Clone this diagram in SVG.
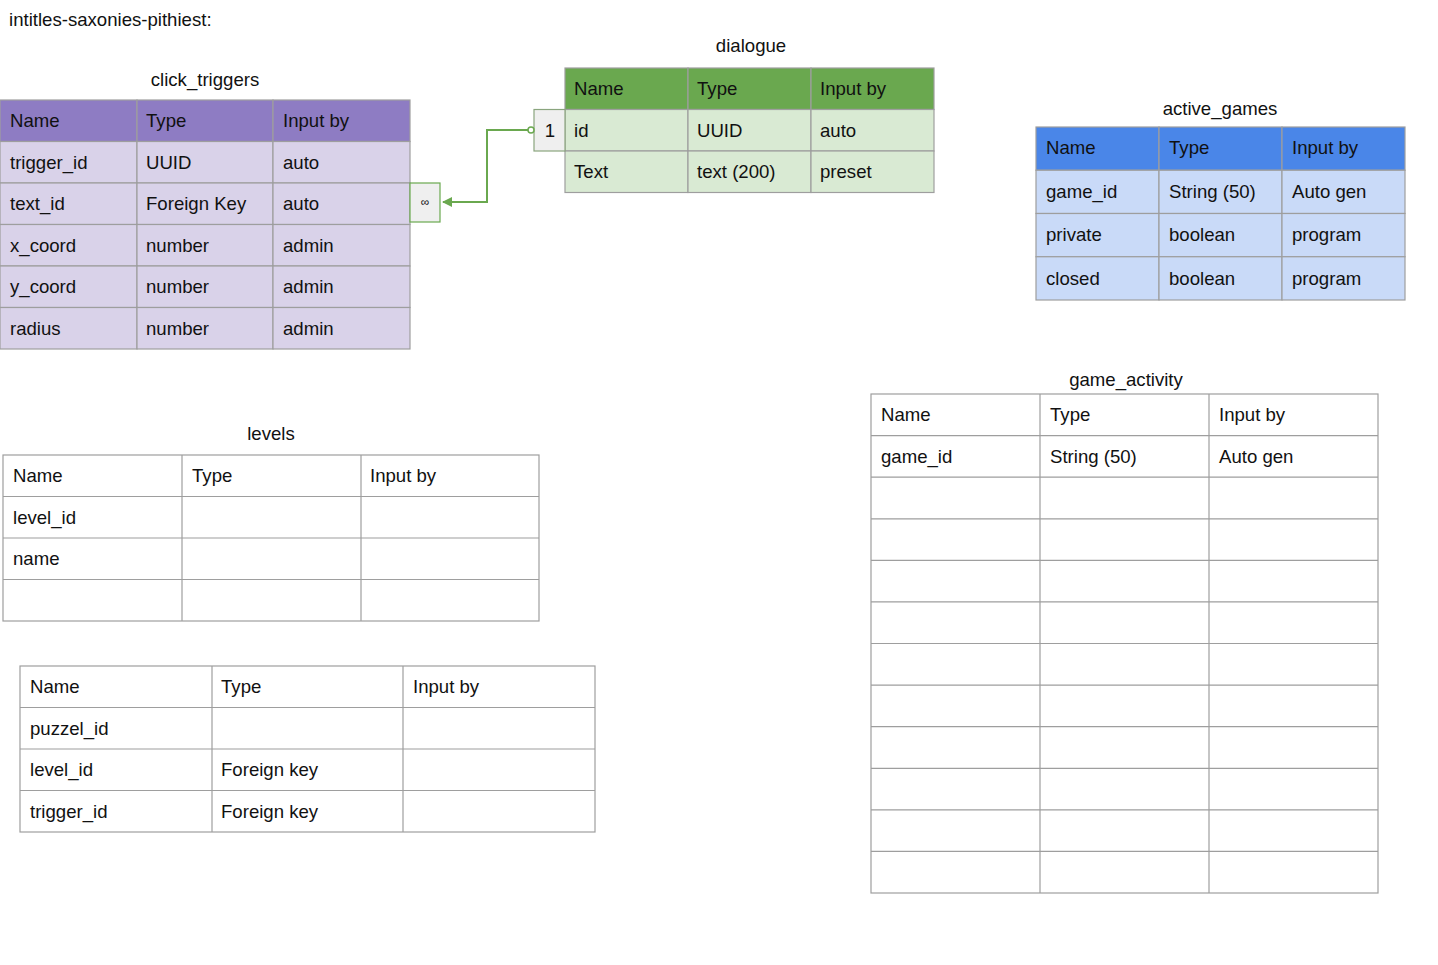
<svg xmlns="http://www.w3.org/2000/svg" width="1438" height="965" viewBox="0 0 1438 965">
<style>
text{font-family:"Liberation Sans",Arial,sans-serif;font-size:18.6px;fill:#111}
.t{text-anchor:middle}
.g{stroke:#9e9e9e;stroke-width:1.2}
.ph{fill:#8e7cc3}.pl{fill:#d9d2e9}
.gh{fill:#6aa84f}.gl{fill:#d9ead3}
.bh{fill:#4a86e8}.bl{fill:#c9daf8}
.w{fill:#fff}
.tag{fill:#efefef;stroke:#6aa84f;stroke-width:1.2}
.con{fill:none;stroke:#6aa84f;stroke-width:2}
</style>
<defs>
<marker id="arr" viewBox="0 0 10 10" refX="9" refY="5" markerWidth="6" markerHeight="5" orient="auto-start-reverse" markerUnits="strokeWidth">
<path d="M0,0 L10,5 L0,10 z" fill="#6aa84f"/>
</marker>
</defs>
<rect width="1438" height="965" fill="#fff"/>
<text x="9" y="26">intitles-saxonies-pithiest:</text>

<g id="click_triggers">
<text class="t" x="205" y="86">click_triggers</text>
<g class="g">
<rect class="ph" x="0" y="100" width="137" height="41.5"/><rect class="ph" x="137" y="100" width="136" height="41.5"/><rect class="ph" x="273" y="100" width="137" height="41.5"/>
<rect class="pl" x="0" y="141.5" width="137" height="41.5"/><rect class="pl" x="137" y="141.5" width="136" height="41.5"/><rect class="pl" x="273" y="141.5" width="137" height="41.5"/>
<rect class="pl" x="0" y="183" width="137" height="41.5"/><rect class="pl" x="137" y="183" width="136" height="41.5"/><rect class="pl" x="273" y="183" width="137" height="41.5"/>
<rect class="pl" x="0" y="224.5" width="137" height="41.5"/><rect class="pl" x="137" y="224.5" width="136" height="41.5"/><rect class="pl" x="273" y="224.5" width="137" height="41.5"/>
<rect class="pl" x="0" y="266" width="137" height="41.5"/><rect class="pl" x="137" y="266" width="136" height="41.5"/><rect class="pl" x="273" y="266" width="137" height="41.5"/>
<rect class="pl" x="0" y="307.5" width="137" height="41.5"/><rect class="pl" x="137" y="307.5" width="136" height="41.5"/><rect class="pl" x="273" y="307.5" width="137" height="41.5"/>
</g>
<text x="10" y="127">Name</text><text x="146" y="127">Type</text><text x="283" y="127">Input by</text>
<text x="10" y="168.5">trigger_id</text><text x="146" y="168.5">UUID</text><text x="283" y="168.5">auto</text>
<text x="10" y="210">text_id</text><text x="146" y="210">Foreign Key</text><text x="283" y="210">auto</text>
<text x="10" y="251.5">x_coord</text><text x="146" y="251.5">number</text><text x="283" y="251.5">admin</text>
<text x="10" y="293">y_coord</text><text x="146" y="293">number</text><text x="283" y="293">admin</text>
<text x="10" y="334.5">radius</text><text x="146" y="334.5">number</text><text x="283" y="334.5">admin</text>
<rect class="tag" x="410" y="183" width="30" height="39"/>
<text class="t" x="425" y="206" style="font-size:12px">∞</text>
</g>

<g id="dialogue">
<text class="t" x="751" y="52">dialogue</text>
<g class="g">
<rect class="gh" x="565" y="68" width="123" height="41.5"/><rect class="gh" x="688" y="68" width="123" height="41.5"/><rect class="gh" x="811" y="68" width="123" height="41.5"/>
<rect class="gl" x="565" y="109.5" width="123" height="41.5"/><rect class="gl" x="688" y="109.5" width="123" height="41.5"/><rect class="gl" x="811" y="109.5" width="123" height="41.5"/>
<rect class="gl" x="565" y="151" width="123" height="41.5"/><rect class="gl" x="688" y="151" width="123" height="41.5"/><rect class="gl" x="811" y="151" width="123" height="41.5"/>
</g>
<text x="574" y="95">Name</text><text x="697" y="95">Type</text><text x="820" y="95">Input by</text>
<text x="574" y="136.5">id</text><text x="697" y="136.5">UUID</text><text x="820" y="136.5">auto</text>
<text x="574" y="178">Text</text><text x="697" y="178">text (200)</text><text x="820" y="178">preset</text>
<rect x="534" y="109.5" width="31" height="41.5" fill="#efefef" stroke="#8aa57e" stroke-width="1.2"/>
<text class="t" x="550" y="136.5">1</text>
</g>

<g id="active_games">
<text class="t" x="1220" y="115">active_games</text>
<g class="g">
<rect class="bh" x="1036" y="127" width="123" height="43.25"/><rect class="bh" x="1159" y="127" width="123" height="43.25"/><rect class="bh" x="1282" y="127" width="123" height="43.25"/>
<rect class="bl" x="1036" y="170.25" width="123" height="43.25"/><rect class="bl" x="1159" y="170.25" width="123" height="43.25"/><rect class="bl" x="1282" y="170.25" width="123" height="43.25"/>
<rect class="bl" x="1036" y="213.5" width="123" height="43.25"/><rect class="bl" x="1159" y="213.5" width="123" height="43.25"/><rect class="bl" x="1282" y="213.5" width="123" height="43.25"/>
<rect class="bl" x="1036" y="256.75" width="123" height="43.25"/><rect class="bl" x="1159" y="256.75" width="123" height="43.25"/><rect class="bl" x="1282" y="256.75" width="123" height="43.25"/>
</g>
<text x="1046" y="154">Name</text><text x="1169" y="154">Type</text><text x="1292" y="154">Input by</text>
<text x="1046" y="198">game_id</text><text x="1169" y="198">String (50)</text><text x="1292" y="198">Auto gen</text>
<text x="1046" y="241">private</text><text x="1169" y="241">boolean</text><text x="1292" y="241">program</text>
<text x="1046" y="285">closed</text><text x="1169" y="285">boolean</text><text x="1292" y="285">program</text>
</g>

<g id="game_activity">
<text class="t" x="1126" y="386">game_activity</text>
<g class="g w">
<rect x="871" y="394" width="507" height="499"/>
</g>
<g class="g">
<line x1="1040" y1="394" x2="1040" y2="893"/><line x1="1209" y1="394" x2="1209" y2="893"/>
<line x1="871" y1="435.6" x2="1378" y2="435.6"/><line x1="871" y1="477.2" x2="1378" y2="477.2"/>
<line x1="871" y1="518.8" x2="1378" y2="518.8"/><line x1="871" y1="560.3" x2="1378" y2="560.3"/>
<line x1="871" y1="601.9" x2="1378" y2="601.9"/><line x1="871" y1="643.5" x2="1378" y2="643.5"/>
<line x1="871" y1="685.1" x2="1378" y2="685.1"/><line x1="871" y1="726.7" x2="1378" y2="726.7"/>
<line x1="871" y1="768.3" x2="1378" y2="768.3"/><line x1="871" y1="809.8" x2="1378" y2="809.8"/>
<line x1="871" y1="851.4" x2="1378" y2="851.4"/>
</g>
<text x="881" y="421">Name</text><text x="1050" y="421">Type</text><text x="1219" y="421">Input by</text>
<text x="881" y="463">game_id</text><text x="1050" y="463">String (50)</text><text x="1219" y="463">Auto gen</text>
</g>

<g id="levels">
<text class="t" x="271" y="440">levels</text>
<g class="g w">
<rect x="3" y="455" width="536" height="166"/>
</g>
<g class="g">
<line x1="182" y1="455" x2="182" y2="621"/><line x1="361" y1="455" x2="361" y2="621"/>
<line x1="3" y1="496.5" x2="539" y2="496.5"/><line x1="3" y1="538" x2="539" y2="538"/><line x1="3" y1="579.5" x2="539" y2="579.5"/>
</g>
<text x="13" y="482">Name</text><text x="192" y="482">Type</text><text x="370" y="482">Input by</text>
<text x="13" y="523.5">level_id</text>
<text x="13" y="565">name</text>
</g>

<g id="puzzels">
<g class="g w">
<rect x="20" y="666" width="575" height="166"/>
</g>
<g class="g">
<line x1="212" y1="666" x2="212" y2="832"/><line x1="403" y1="666" x2="403" y2="832"/>
<line x1="20" y1="707.5" x2="595" y2="707.5"/><line x1="20" y1="749" x2="595" y2="749"/><line x1="20" y1="790.5" x2="595" y2="790.5"/>
</g>
<text x="30" y="693">Name</text><text x="221" y="693">Type</text><text x="413" y="693">Input by</text>
<text x="30" y="734.5">puzzel_id</text>
<text x="30" y="776">level_id</text><text x="221" y="776">Foreign key</text>
<text x="30" y="817.5">trigger_id</text><text x="221" y="817.5">Foreign key</text>
</g>

<g id="connectors">
<path class="con" d="M528,130 H487 V202 H443" marker-end="url(#arr)"/>
<circle cx="531" cy="130" r="3" fill="#fff" stroke="#6aa84f" stroke-width="1.5"/>
</g>
</svg>
